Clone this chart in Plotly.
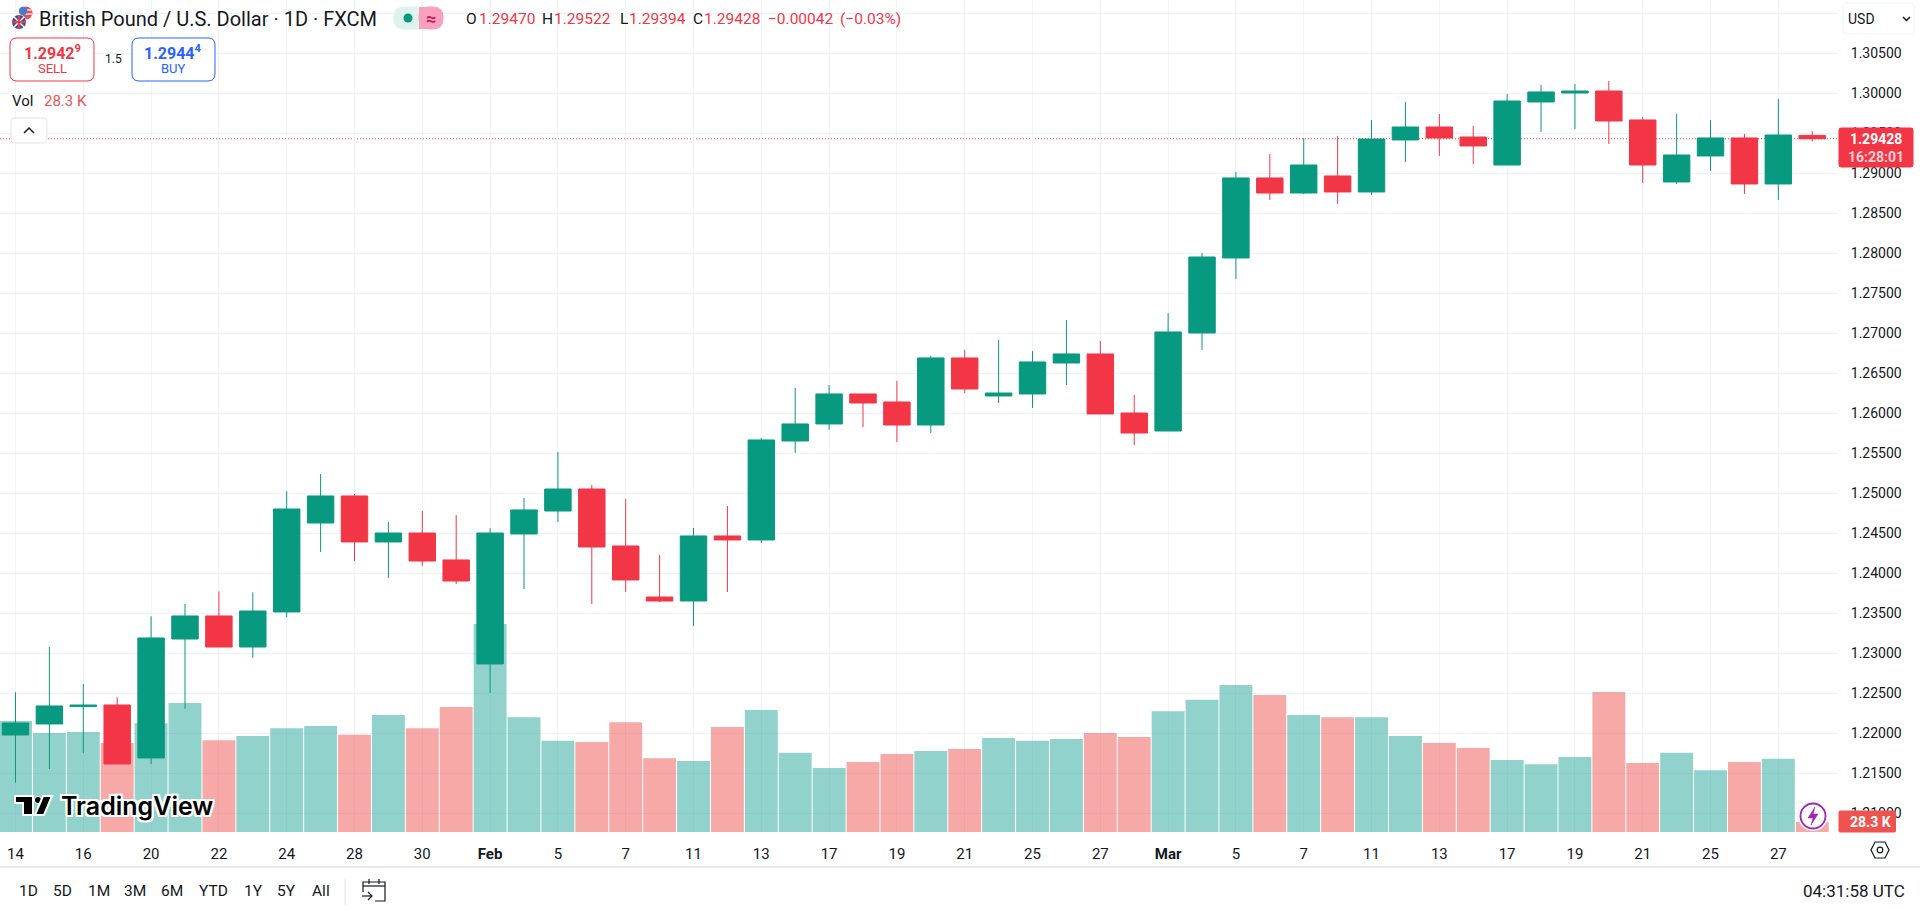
import plotly.graph_objects as go

dates = ["Jan 14", "Jan 15", "Jan 16", "Jan 17", "Jan 20", "Jan 21", "Jan 22", "Jan 23", "Jan 24", "Jan 27",
         "Jan 28", "Jan 29", "Jan 30", "Jan 31", "Feb 3", "Feb 4", "Feb 5", "Feb 6", "Feb 7", "Feb 10",
         "Feb 11", "Feb 12", "Feb 13", "Feb 14", "Feb 17", "Feb 18", "Feb 19", "Feb 20", "Feb 21", "Feb 24",
         "Feb 25", "Feb 26", "Feb 27", "Feb 28", "Mar 3", "Mar 4", "Mar 5", "Mar 6", "Mar 7", "Mar 10",
         "Mar 11", "Mar 12", "Mar 13", "Mar 14", "Mar 17", "Mar 18", "Mar 19", "Mar 20", "Mar 21", "Mar 24",
         "Mar 25", "Mar 26", "Mar 27", "Mar 28"]

opens = [1.21975, 1.22113, 1.22330, 1.22350, 1.21688, 1.23175, 1.23463, 1.23075, 1.23513, 1.24625,
         1.24963, 1.24388, 1.24500, 1.24163, 1.22863, 1.24488, 1.24775, 1.25050, 1.24338, 1.23700,
         1.23650, 1.24463, 1.24413, 1.25650, 1.25863, 1.26238, 1.26138, 1.25850, 1.26688, 1.26213,
         1.26238, 1.26625, 1.26738, 1.26000, 1.25775, 1.27000, 1.27938, 1.28938, 1.28750, 1.28963,
         1.28763, 1.29413, 1.29575, 1.29450, 1.29100, 1.29888, 1.30000, 1.30025, 1.29663, 1.28888,
         1.29213, 1.29438, 1.28863, 1.29470]
highs = [1.22509, 1.23075, 1.22613, 1.22446, 1.23459, 1.23613, 1.23771, 1.23759, 1.25021, 1.25238,
         1.24988, 1.24638, 1.24775, 1.24725, 1.24559, 1.24938, 1.25513, 1.25100, 1.24925, 1.24225,
         1.24563, 1.24838, 1.25688, 1.26313, 1.26350, 1.26238, 1.26400, 1.26713, 1.26788, 1.26913,
         1.26775, 1.27163, 1.26900, 1.26225, 1.27250, 1.28000, 1.29013, 1.29238, 1.29438, 1.29463,
         1.29663, 1.29888, 1.29738, 1.29588, 1.29988, 1.30100, 1.30113, 1.30150, 1.29700, 1.29738,
         1.29663, 1.29488, 1.29925, 1.29522]
lows = [1.21379, 1.21550, 1.21750, 1.21613, 1.21613, 1.22304, 1.23075, 1.22941, 1.23450, 1.24263,
        1.24150, 1.23938, 1.24088, 1.23863, 1.22500, 1.23800, 1.24638, 1.23613, 1.23763, 1.23638,
        1.23338, 1.23763, 1.24375, 1.25500, 1.25788, 1.25825, 1.25638, 1.25750, 1.26250, 1.26125,
        1.26063, 1.26350, 1.25988, 1.25600, 1.25775, 1.26788, 1.27675, 1.28663, 1.28738, 1.28613,
        1.28725, 1.29138, 1.29213, 1.29113, 1.29100, 1.29513, 1.29550, 1.29363, 1.28875, 1.28863,
        1.29025, 1.28738, 1.28663, 1.29394]
closes = [1.22125, 1.22338, 1.22350, 1.21613, 1.23188, 1.23463, 1.23075, 1.23525, 1.24800, 1.24963,
          1.24388, 1.24500, 1.24150, 1.23900, 1.24500, 1.24788, 1.25050, 1.24325, 1.23913, 1.23650,
          1.24463, 1.24413, 1.25663, 1.25863, 1.26238, 1.26125, 1.25850, 1.26688, 1.26300, 1.26250,
          1.26638, 1.26738, 1.25988, 1.25750, 1.27013, 1.27950, 1.28938, 1.28750, 1.29100, 1.28763,
          1.29425, 1.29575, 1.29438, 1.29338, 1.29900, 1.30013, 1.30025, 1.29650, 1.29100, 1.29225,
          1.29438, 1.28863, 1.29475, 1.29428]
volumes = [314, 280, 283, 252, 308, 365, 260, 272, 294, 300,
           275, 331, 294, 354, 589, 325, 258, 255, 311, 209,
           201, 297, 345, 224, 181, 198, 221, 229, 235, 266,
           258, 263, 280, 269, 342, 374, 416, 388, 331, 325,
           325, 272, 252, 238, 204, 192, 212, 396, 195, 224,
           175, 198, 207, 28.3]

x_ticks = dates[::2]
x_labels = ["14", "16", "20", "22", "24", "28", "30", "<b>Feb</b>", "5", "7", "11", "13", "17", "19", "21", "25",
            "27", "<b>Mar</b>", "5", "7", "11", "13", "17", "19", "21", "25", "27"]
price_ticks = [1.21, 1.215, 1.22, 1.225, 1.23, 1.235, 1.24, 1.245, 1.25, 1.255, 1.26, 1.265, 1.27, 1.275,
               1.28, 1.285, 1.29, 1.295, 1.30, 1.305, 1.31]
price_labels = ["1.21000", "1.21500", "1.22000", "1.22500", "1.23000", "1.23500", "1.24000", "1.24500", "1.25000",
                "1.25500", "1.26000", "1.26500", "1.27000", "1.27500", "1.28000", "1.28500", "1.29000", "1.29500",
                "1.30000", "1.30500", ""]
ranges = [("1D", 28), ("5D", 62), ("1M", 99), ("3M", 135), ("6M", 171.5), ("YTD", 213), ("1Y", 253), ("5Y", 286), ("All", 321)]
ohlc_parts = [("O", 465, None), ("1.29470", 478, "v"), ("H", 541, None), ("1.29522", 553, "v"), ("L", 618.5, None),
              ("1.29394", 628, "v"), ("C", 692, None), ("1.29428", 703, "v"), ("\u22120.00042", 767, "v"), ("(\u22120.03%)", 839, "v")]

W = 1838
H = 832
GREEN = "#089981"
RED = "#F23645"
INK = "#131722"
GRID = "#F0F3FA"
FONT = "Roboto"


def px(x):
    return x / W


def py(y):
    return 1 - y / H


def note(x, y, text, size=14, color=INK, anchor="left", family=FONT, **kw):
    return dict(xref="paper", yref="paper", x=px(x), y=py(y), text=text, showarrow=False,
                xanchor=anchor, yanchor="middle", borderpad=0,
                font=dict(family=family, size=size, color=color, **kw))


def path(points, closed=False, **kw):
    d = "M" + " L".join(f"{px(a):.5f},{py(b):.5f}" for a, b in points) + (" Z" if closed else "")
    return dict(type="path", xref="paper", yref="paper", path=d, layer="above", **kw)


def rbox(x0, y0, x1, y1, r, fill="#ffffff", edge="#ffffff", width=1):
    d = (f"M{px(x0 + r):.5f},{py(y0):.5f} L{px(x1 - r):.5f},{py(y0):.5f} Q{px(x1):.5f},{py(y0):.5f} {px(x1):.5f},{py(y0 + r):.5f} "
         f"L{px(x1):.5f},{py(y1 - r):.5f} Q{px(x1):.5f},{py(y1):.5f} {px(x1 - r):.5f},{py(y1):.5f} "
         f"L{px(x0 + r):.5f},{py(y1):.5f} Q{px(x0):.5f},{py(y1):.5f} {px(x0):.5f},{py(y1 - r):.5f} "
         f"L{px(x0):.5f},{py(y0 + r):.5f} Q{px(x0):.5f},{py(y0):.5f} {px(x0 + r):.5f},{py(y0):.5f} Z")
    return dict(type="path", xref="paper", yref="paper", path=d, layer="above", fillcolor=fill,
                line=dict(color=edge, width=width))


def disc(cx, cy, r, fill, edge=None, width=0):
    return dict(type="circle", xref="paper", yref="paper", layer="above", x0=px(cx - r), x1=px(cx + r),
                y0=py(cy + r), y1=py(cy - r), fillcolor=fill, line=dict(color=edge or fill, width=width))


vol_colors = ["rgba(239,83,80,0.5)" if c < o else "rgba(38,166,154,0.5)" for o, c in zip(opens, closes)]

fig = go.Figure()
fig.add_trace(go.Bar(x=dates, y=volumes, marker=dict(color=vol_colors, line=dict(width=0)), yaxis="y", showlegend=False))
fig.add_trace(go.Candlestick(x=dates, open=opens, high=highs, low=lows, close=closes, yaxis="y2", showlegend=False,
                             increasing=dict(line=dict(color=GREEN, width=1), fillcolor=GREEN),
                             decreasing=dict(line=dict(color=RED, width=1), fillcolor=RED)))

shapes = [
    dict(type="line", xref="paper", yref="y2", x0=0, x1=1, y0=closes[-1], y1=closes[-1], layer="below",
         line=dict(color=RED, width=1, dash="1px,2px")),
    dict(type="line", xref="paper", yref="paper", x0=0, x1=px(1920), y0=py(867), y1=py(867), layer="above",
         line=dict(color="#E0E3EB", width=1.5)),
    dict(type="line", xref="paper", yref="paper", x0=px(345), x1=px(345), y0=py(878), y1=py(905), layer="above",
         line=dict(color="#E0E3EB", width=1)),
    # flag icon
    disc(26, 13, 6.5, "#E8505B"),
    path([(20.5, 10), (31.5, 10)], line=dict(color="#ffffff", width=1.2)),
    path([(20, 14), (32, 14)], line=dict(color="#ffffff", width=1.2)),
    disc(23, 11, 4.2, "#3F7FD0"),
    disc(19, 22, 7.5, "#ffffff"),
    disc(19, 22, 7, "#3A4E94"),
    path([(14, 17), (24, 27)], line=dict(color="#ffffff", width=1.5)),
    path([(24, 17), (14, 27)], line=dict(color="#ffffff", width=1.5)),
    path([(12, 22), (26, 22)], line=dict(color="#E5404F", width=2.2)),
    path([(19, 15), (19, 29)], line=dict(color="#E5404F", width=2.2)),
    # session pill
    rbox(394, 7, 432, 29, 10, fill="#DFF2EE", edge="#DFF2EE"),
    rbox(419, 7, 443, 29, 10, fill="#F7A1BE", edge="#F7A1BE"),
    path([(419, 7), (430, 7), (430, 29), (419, 29)], closed=True, fillcolor="#F7A1BE", line=dict(width=0)),
    disc(408, 18, 4.5, GREEN),
    # sell / buy
    rbox(10, 38, 94, 81, 7, edge=RED),
    rbox(132, 38, 215, 81, 7, edge="#2962FF"),
    # collapse button
    rbox(11, 118, 47, 143, 4, edge="#E0E3EB"),
    path([(24, 133), (29, 128), (34, 133)], line=dict(color=INK, width=1.5)),
    # USD button
    rbox(1843, 3, 1914, 34, 4, edge=GRID),
    path([(1903, 17), (1906.5, 20.5), (1910, 17)], line=dict(color=INK, width=1.5)),
    # last price and last volume
    rbox(1839, 128, 1913, 167, 2, fill=RED, edge=RED),
    rbox(1839, 811, 1895.5, 832, 1, fill="#EF5350", edge="#EF5350"),
    # tradingview logo
    path([(15, 796), (33, 796), (33, 815), (23, 815), (23, 803), (15, 803)], closed=True, fillcolor="#000000",
         line=dict(color="#ffffff", width=2)),
    disc(38, 800, 3.6, "#000000", "#ffffff", 1),
    path([(43, 796), (52, 796), (44, 815), (35, 815)], closed=True, fillcolor="#000000",
         line=dict(color="#ffffff", width=2)),
    # calendar icon
    path([(363, 892), (363, 882), (385, 882), (385, 901), (375, 901)], line=dict(color=INK, width=1.2)),
    path([(363, 886), (385, 886)], line=dict(color=INK, width=1.2)),
    path([(369, 879), (369, 884)], line=dict(color=INK, width=1.2)),
    path([(379, 879), (379, 884)], line=dict(color=INK, width=1.2)),
    path([(362, 896), (372, 896)], line=dict(color=INK, width=1.2)),
    path([(368, 892), (372, 896), (368, 900)], line=dict(color=INK, width=1.2)),
    # settings hexagon
    path([(1875, 842), (1885, 842), (1889, 850), (1885, 858), (1875, 858), (1871, 850)], closed=True,
         line=dict(color=INK, width=1.2)),
    disc(1880, 850, 2.8, "#ffffff", INK, 1.2),
    # lightning badge
    disc(1813, 816, 15, "#ffffff"),
    disc(1813, 816, 12.5, "#ffffff", "#9C27B0", 1.8),
    path([(1815, 807), (1808, 818), (1813, 818), (1811, 825), (1818, 814), (1813, 814)], closed=True,
         fillcolor="#9C27B0", line=dict(color="#9C27B0", width=0.5)),
]

halo = "2px 0 0 #fff,-2px 0 0 #fff,0 2px 0 #fff,0 -2px 0 #fff,2px 2px 0 #fff,-2px -2px 0 #fff,2px -2px 0 #fff,-2px 2px 0 #fff"

annotations = [
    note(38, 19, "British Pound / U.S. Dollar \u00b7 1D \u00b7 FXCM", size=20),
    note(431, 18, "<b>\u2248</b>", size=18, color="#C2185B", anchor="center"),
    note(52, 52, "<b>1.2942<sup>9</sup></b>", size=16, color=RED, anchor="center"),
    note(52, 69, "SELL", size=13, color=RED, anchor="center"),
    note(113, 59, "1.5", size=12, anchor="center"),
    note(173, 52, "<b>1.2944<sup>4</sup></b>", size=16, color="#2962FF", anchor="center"),
    note(173, 69, "BUY", size=13, color="#2962FF", anchor="center"),
    note(11, 101, "Vol", size=15),
    note(43, 101, "28.3 K", size=15, color="#EF5350"),
    note(1847, 19, "USD", size=14),
    note(1876, 139, "<b>1.29428</b>", size=14, color="#ffffff", anchor="center"),
    note(1876, 157, "<b>16:28:01</b>", size=14, color="#FBD0D5", anchor="center"),
    note(1870, 822, "<b>28.3 K</b>", size=14, color="#ffffff", anchor="center"),
    note(60, 806, "TradingView", size=25, color="#000000", family="Inter", weight=600, shadow=halo),
    note(1906, 891, "04:31:58 UTC", size=17, anchor="right"),
]
for part, left, kind in ohlc_parts:
    annotations.append(note(left, 19, part, size=15.5, color=RED if kind else INK))
for label, center in ranges:
    annotations.append(note(center, 891, label, size=15.5, anchor="center"))

fig.update_layout(
    width=1920,
    height=910,
    margin=dict(l=0, r=82, t=0, b=78, pad=0),
    paper_bgcolor="#ffffff",
    plot_bgcolor="#ffffff",
    font=dict(family=FONT, size=14, color=INK),
    boxgap=0.22,
    boxgroupgap=0,
    bargap=0.03,
    showlegend=False,
    shapes=shapes,
    annotations=annotations,
    xaxis=dict(type="category", range=[-0.457, 53.76], rangeslider=dict(visible=False), tickmode="array",
               tickvals=x_ticks, ticktext=x_labels, showgrid=True, gridcolor=GRID, gridwidth=1, zeroline=False,
               showline=False, ticks="outside", ticklen=8, tickcolor="rgba(0,0,0,0)",
               tickfont=dict(family=FONT, size=15, color=INK)),
    yaxis=dict(range=[0, 2355], showgrid=False, zeroline=False, showticklabels=False, ticks="", showline=False),
    yaxis2=dict(overlaying="y", side="right", range=[1.207625, 1.311625], tickmode="array", tickvals=price_ticks,
                ticktext=price_labels, showgrid=True, gridcolor=GRID, gridwidth=1, zeroline=False, showline=False,
                ticks="outside", ticklen=9, tickcolor="rgba(0,0,0,0)", tickfont=dict(family=FONT, size=14, color=INK)),
)

fig.write_html("out.html", config=dict(displayModeBar=False), post_script="document.body.style.margin='0';")
